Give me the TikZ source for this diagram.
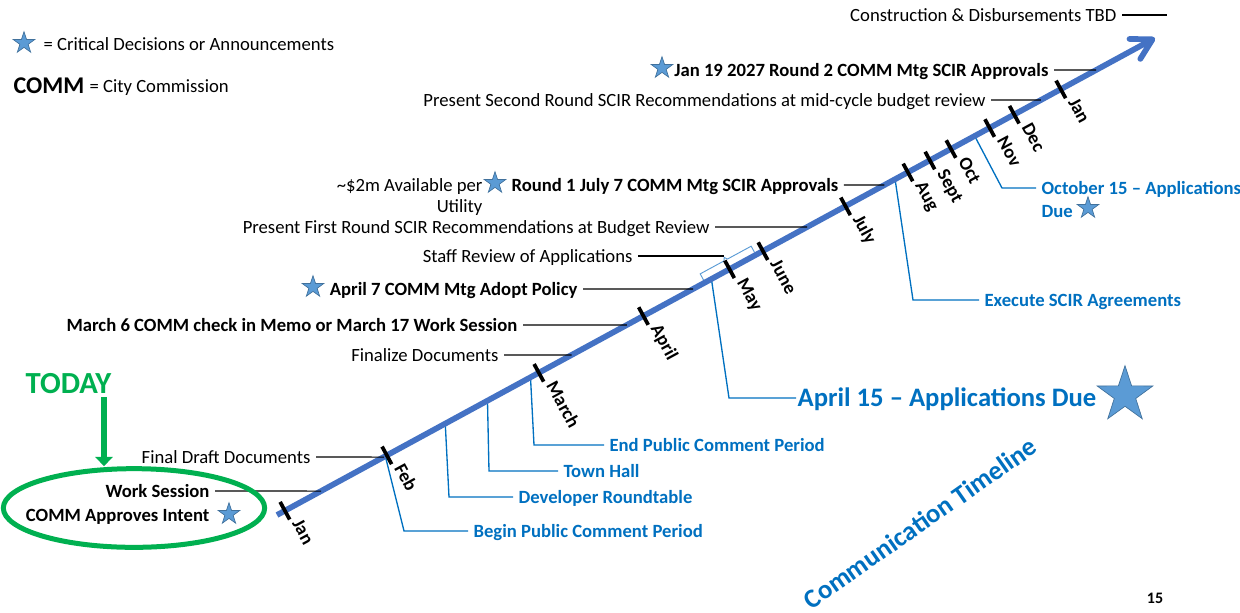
\documentclass[tikz,border=0pt]{standalone}
\usepackage{fontspec}
\setmainfont{Carlito}
\usetikzlibrary{arrows.meta,shapes.geometric}

\definecolor{lineblue}{HTML}{4472C4}
\definecolor{callblue}{HTML}{0070C0}
\definecolor{todaygreen}{HTML}{00B050}
\definecolor{starfill}{HTML}{5B9BD5}
\definecolor{starline}{HTML}{41719C}

\tikzset{
  lbl/.style={font=\fontsize{14}{16}\selectfont, inner sep=4pt, text height=10pt, text depth=1pt},
  blbl/.style={lbl, font=\fontsize{14}{16}\selectfont\bfseries},
  bluelbl/.style={blbl, text=callblue, anchor=west},
  month/.style={font=\fontsize{14}{16}\selectfont\bfseries, rotate=-61.5, anchor=west, inner sep=1pt, text height=10pt, text depth=1pt},
  tick/.style={line width=2.8pt},
  callout/.style={line width=0.8pt},
  bluecall/.style={callblue, line width=1pt},
  mstar/.style={star, star points=5, star point ratio=2.6, fill=starfill, draw=starline, line width=0.5pt, inner sep=0pt, minimum size=#1},
  mstar/.default=17pt
}

\begin{document}
\begin{tikzpicture}[x=0.75pt, y=-0.75pt]
\useasboundingbox (0,0) rectangle (1240,612);

% key
\node[mstar] (key) at (24,43) {};
\node[lbl, anchor=west] (keytxt) at (38,44) {= Critical Decisions or Announcements};
\node[anchor=west, inner sep=4pt, font=\fontsize{18}{20}\selectfont\bfseries] (comm) at (8,86) {COMM};
\node[lbl, anchor=west] (commtxt) at (84,86) {= City Commission};

% timeline
\coordinate (tlS) at (277,515);
\coordinate (tlE) at (1155,38);
\begin{scope}[shift={(tlS)}, rotate=28.5]
  \coordinate (pFeb) at (123,1);
  \coordinate (pDev) at (191,1);
  \coordinate (pTown) at (239,1);
  \coordinate (pEnd) at (288,1);
  \coordinate (pApr) at (494,1);
  \coordinate (pExec) at (703,1);
  \coordinate (pOct) at (794,1);
  \coordinate (brk) at (516,-13);
  \draw[starfill, line width=0.7pt] (487,-3) -- (487,-10) -- (514,-10) -- (516,-13) -- (518,-10) -- (545,-10) -- (545,-3);
\end{scope}

% blue callouts
\node[bluelbl] (beginpc) at (468,531) {Begin Public Comment Period};
\node[bluelbl] (devrt) at (513,497) {Developer Roundtable};
\node[bluelbl] (town) at (558,471) {Town Hall};
\node[bluelbl] (endpc) at (604,445) {End Public Comment Period};
\node[bluelbl, inner sep=1pt, font=\fontsize{20}{22}\selectfont\bfseries, text height=14pt] (apr15) at (796,398) {April 15 -- Applications Due};
\node[mstar=44pt] (bigstar) at (1125,395) {};
\node[bluelbl] (exec) at (979,300) {Execute SCIR Agreements};
\node[bluelbl] (oct15) at (1036,188) {October 15 -- Applications};
\node[bluelbl] (due) at (1036,211) {Due};
\node[mstar] (s4) at (1088,208) {};

\draw[bluecall] (pFeb) -- (404,531) -- (beginpc.west);
\draw[bluecall] (pDev) -- (449,497) -- (devrt.west);
\draw[bluecall] (pTown) -- (489,471) -- (town.west);
\draw[bluecall] (pEnd) -- (534,445) -- (endpc.west);
\draw[bluecall] (pApr) -- (729,398) -- (apr15.west);
\draw[bluecall] (pExec) -- (913,300) -- (exec.west);
\draw[bluecall] (pOct) -- (1002,188) -- (oct15.west);

\draw[lineblue, line width=4.3pt, -{Straight Barb[length=15pt, width=17pt, round]}] (tlS) -- (tlE);

\begin{scope}[shift={(tlS)}, rotate=28.5]
  \foreach \u/\m [count=\i] in {9/Jan,125/Feb,298/March,417/April,515/May,553/June,647/July,718/Aug,743/Sept,767/Oct,811/Nov,839/Dec,892/Jan}{
    \draw[tick] (\u,-10) -- (\u,10);
    \node[month] (mon\i) at (\u+6,13) {\m};
  }
\end{scope}

% black callouts
\node[lbl, anchor=east] (constr) at (1122,15) {Construction \& Disbursements TBD};
\coordinate (constrEnd) at (1167,15);
\node[blbl, anchor=east] (jan19) at (1054,70) {Jan 19 2027 Round 2 COMM Mtg SCIR Approvals};
\node[mstar] (s3) at (662,68) {};
\node[lbl, anchor=east] (midcyc) at (991,100) {Present Second Round SCIR Recommendations at mid-cycle budget review};
\node[font=\fontsize{14}{15.75}\selectfont, align=right, inner sep=4pt, anchor=east] (avail) at (488,197) {\textasciitilde\$2m Available per\\Utility};
\node[mstar] (s2) at (495,183) {};
\node[blbl, anchor=west] (round1) at (506,185) {Round 1 July 7 COMM Mtg SCIR Approvals};
\node[lbl, anchor=east] (first) at (715,227) {Present First Round SCIR Recommendations at Budget Review};
\node[lbl, anchor=east] (staff) at (638,256) {Staff Review of Applications};
\node[blbl, anchor=east] (apr7) at (583,289) {April 7 COMM Mtg Adopt Policy};
\node[mstar] (s1) at (313,287) {};
\node[blbl, anchor=east] (mar6) at (523,325) {March 6 COMM check in Memo or March 17 Work Session};
\node[lbl, anchor=east] (finz) at (504,355) {Finalize Documents};
\node[lbl, anchor=east] (fdraft) at (316,457) {Final Draft Documents};
\node[blbl, anchor=east] (ws) at (215,491) {Work Session};
\node[blbl, anchor=east] (cai) at (215,515) {COMM Approves Intent};
\node[mstar] (s0) at (229,514) {};

\draw[callout] (constr.east) -- (constrEnd);
\draw[callout] (jan19.east) -- (intersection of tlS--tlE and jan19.east--jan19.west);
\draw[callout] (midcyc.east) -- (intersection of tlS--tlE and midcyc.east--midcyc.west);
\draw[callout] (round1.east) -- (intersection of tlS--tlE and round1.east--round1.west);
\draw[callout] (first.east) -- (intersection of tlS--tlE and first.east--first.west);
\draw[callout] (staff.east) -- (staff.east -| brk);
\draw[callout] (apr7.east) -- (intersection of tlS--tlE and apr7.east--apr7.west);
\draw[callout] (mar6.east) -- (intersection of tlS--tlE and mar6.east--mar6.west);
\draw[callout] (finz.east) -- (intersection of tlS--tlE and finz.east--finz.west);
\draw[callout] (fdraft.east) -- (intersection of tlS--tlE and fdraft.east--fdraft.west);
\draw[callout] (ws.east) -- (intersection of tlS--tlE and ws.east--ws.west);

% today
\node[font=\fontsize{23}{25}\selectfont\bfseries, text=todaygreen] (today) at (68.5,384) {TODAY};
\node[ellipse, draw=todaygreen, line width=3.75pt, minimum width=196pt, minimum height=59pt] (ring) at (134,508) {};
\coordinate (arrTop) at (104,397);
\draw[todaygreen, line width=4.5pt, -{Triangle[length=7pt, width=13pt]}] (arrTop) -- (arrTop |- ring.north);

\node[font=\fontsize{20}{22}\selectfont\bfseries, text=callblue, rotate=35] (ctl) at (920,523) {Communication Timeline};
\node[font=\fontsize{12}{14}\selectfont\bfseries] (pg) at (1155,598) {15};
\end{tikzpicture}
\end{document}
